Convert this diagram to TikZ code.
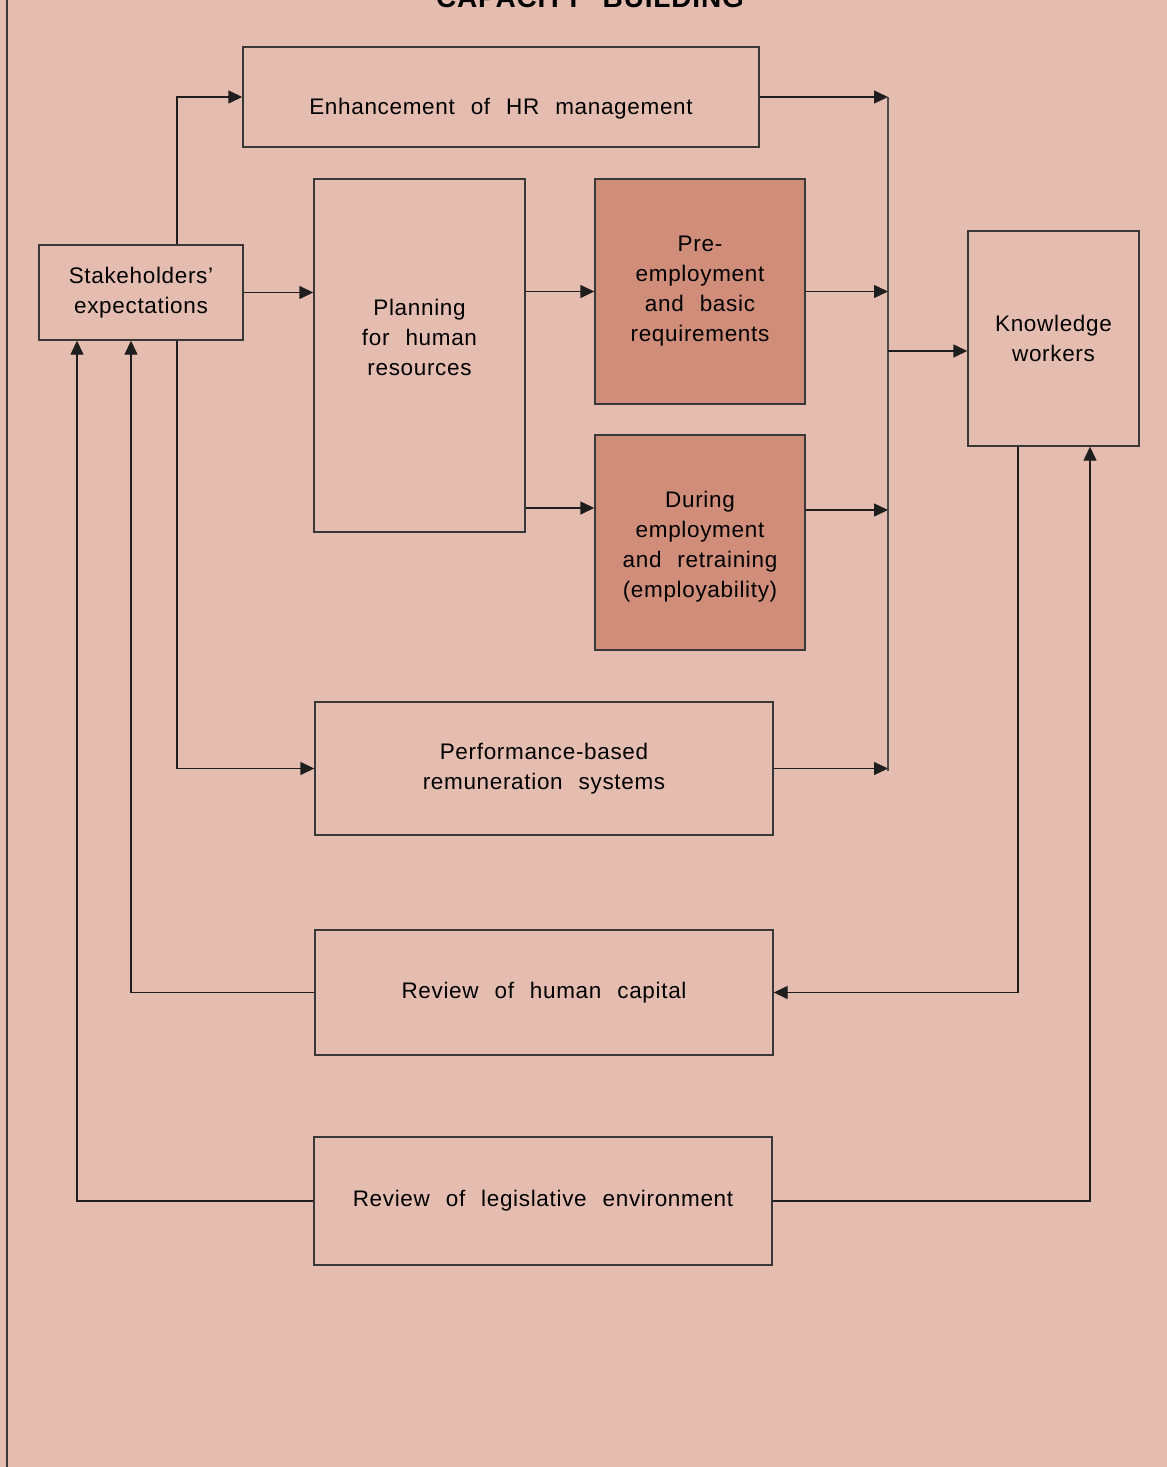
\documentclass[tikz,border=0pt]{standalone}
\usepackage{fontspec}
\setmainfont{Liberation Sans}[LetterSpace=3,WordSpace=2.3]
\usepackage{tikz}
\usetikzlibrary{arrows.meta,positioning}
\definecolor{bgpink}{HTML}{E4BDB0}
\definecolor{deeppink}{HTML}{CF8D7A}
\definecolor{edgegray}{HTML}{383838}
\definecolor{inkblack}{HTML}{1E1E1E}

\begin{document}
\begin{tikzpicture}[
    x=0.5pt, y=-0.5pt,
    font=\fontsize{11.25}{15}\selectfont,
    box/.style={draw=edgegray, line width=0.7pt, inner sep=0pt, align=center},
    hot/.style={box, fill=deeppink},
    txt/.style={align=center, inner sep=0pt},
    ttl/.style={font=\fontsize{14}{16}\selectfont\bfseries, anchor=base, inner sep=0pt},
    flow/.style={-{Triangle[length=7pt,width=6.5pt]}, line width=0.7pt, draw=inkblack},
    bus/.style={line width=0.8pt, draw=edgegray!90}
]
\fill[bgpink] (0,0) rectangle (1167,1467);
\useasboundingbox (0,0) rectangle (1167,1467);
\draw[edgegray, line width=0.8pt] (7,0) -- (7,1467);
\node[ttl] (title) at (590,7) {CAPACITY  BUILDING};

% boxes
\node[box, minimum width=258pt, minimum height=50pt] (hr) at (501,97) {};
\node[txt] (hrtext) at (501,109) {Enhancement of HR management};
\node[box, minimum width=102pt, minimum height=47.5pt] (stake) at (141,292.5) {Stakeholders'\\expectations};
\node[box, minimum width=105.5pt, minimum height=176.5pt] (plan) at (419.5,355.5) {};
\node[txt] (plantext) at (419.5,337) {Planning\\for human\\resources};
\node[hot, minimum width=105pt, minimum height=112.5pt] (pre) at (700,291.5) {Pre-\\employment\\and basic\\requirements};
\node[hot, minimum width=105pt, minimum height=107.5pt] (during) at (700,542.5) {};
\node[txt] (durtext) at (700,547) {During\\employment\\and retraining\\(employability)};
\node[box, minimum width=85.5pt, minimum height=107.5pt] (know) at (1053.5,338.5) {Knowledge\\workers};
\node[box, minimum width=229pt, minimum height=66.5pt] (perf) at (544,768.5) {Performance-based\\remuneration systems};
\node[box, minimum width=229pt, minimum height=62.5pt] (rhc) at (544,992.5) {Review of human capital};
\node[box, minimum width=229pt, minimum height=64pt] (rle) at (543,1201) {Review of legislative environment};

% helper points
\coordinate (sx) at (177,0);
\coordinate (lxa) at (77,0);
\coordinate (lxb) at (131,0);
\coordinate (kxa) at (1018,0);
\coordinate (kxb) at (1090,0);
\coordinate (btop) at (888,97);
\coordinate (bbot) at (888,771);
\coordinate (ylow) at (0,508);
\coordinate (ydur) at (0,510);
\coordinate (yknow) at (0,351);

% outgoing from stakeholders
\draw[flow] (stake.north -| sx) |- (hr.west);
\draw[flow] (stake.east) -- (plan.west |- stake.east);
\draw[flow] (stake.south -| sx) |- (perf.west);
\draw[flow] (plan.east |- pre.west) -- (pre.west);
\draw[flow] (plan.east |- ylow) -- (during.west |- ylow);

% collector
\draw[bus] (btop) -- (bbot);
\draw[flow] (hr.east) -- (btop);
\draw[flow] (pre.east) -- (pre.east -| btop);
\draw[flow] (during.east |- ydur) -- (btop |- ydur);
\draw[flow] (perf.east) -- (perf.east -| btop);
\draw[flow] (btop |- yknow) -- (know.west |- yknow);

% feedback loops
\draw[flow] (know.south -| kxa) |- (rhc.east);
\draw[flow] (rhc.west) -| (stake.south -| lxb);
\draw[flow] (rle.west) -| (stake.south -| lxa);
\draw[flow] (rle.east) -| (know.south -| kxb);
\end{tikzpicture}
\end{document}
